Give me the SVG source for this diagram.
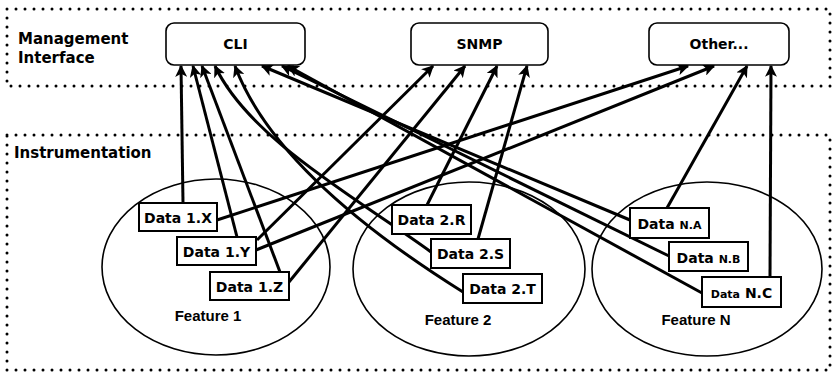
<svg xmlns="http://www.w3.org/2000/svg" width="834" height="373" viewBox="0 0 834 373">
  <style>
    .zone { fill: none; stroke: #000; stroke-width: 3; stroke-linecap: round; stroke-dasharray: 0 9; }
    .zlabel { font-family: "DejaVu Sans", sans-serif; font-weight: bold; font-size: 15px; fill: #000; }
    .iface rect { fill: #fff; stroke: #000; stroke-width: 1.6; }
    .iface text { font-family: "DejaVu Sans", sans-serif; font-weight: bold; font-size: 14px; text-anchor: middle; fill: #000; }
    .feature ellipse { fill: none; stroke: #000; stroke-width: 1.6; }
    .feature text { font-family: "Liberation Sans", Arial, sans-serif; font-weight: bold; font-size: 15px; text-anchor: middle; fill: #000; }
    .data rect { fill: #fff; stroke: #000; stroke-width: 2; }
    .data text { font-family: "DejaVu Sans", sans-serif; font-weight: bold; font-size: 14px; text-anchor: middle; fill: #000; }
    .data .sm { font-size: 11px; }
    .links path { fill: none; stroke: #000; stroke-width: 3; marker-end: url(#arrow); }
  </style>
  <defs>
    <marker id="arrow" viewBox="0 0 10 10" refX="9" refY="5" markerWidth="4" markerHeight="4" orient="auto" markerUnits="strokeWidth">
      <path d="M0,0 L10,5 L0,10 L2.5,5 z" fill="#000"/>
    </marker>
  </defs>

  <rect width="834" height="373" fill="#fff"/>

  <!-- zones -->
  <rect class="zone" x="7" y="9" width="823" height="77"/>
  <text class="zlabel" x="18" y="44">Management</text>
  <text class="zlabel" x="18" y="63">Interface</text>
  <rect class="zone" x="7" y="135" width="823" height="235"/>
  <text class="zlabel" x="14" y="158">Instrumentation</text>

  <!-- features -->
  <g id="feature1" class="feature">
    <ellipse cx="216" cy="267" rx="114" ry="88"/>
    <text x="208" y="321">Feature 1</text>
  </g>
  <g id="feature2" class="feature">
    <ellipse cx="469" cy="269" rx="116" ry="87"/>
    <text x="458" y="325">Feature 2</text>
  </g>
  <g id="featureN" class="feature">
    <ellipse cx="707" cy="269" rx="115" ry="87"/>
    <text x="696" y="325">Feature N</text>
  </g>

  <!-- connectors -->
  <g id="connectors" class="links">
    <path d="M183,203 L181,66"/>
    <path d="M237,237 L193,66"/>
    <path d="M280,272 L202,66"/>
    <path d="M431,252 C360,200 250,140 215,66"/>
    <path d="M463,292 C380,240 270,160 235,66"/>
    <path d="M630,220 L262,66"/>
    <path d="M669,256 L282,66"/>
    <path d="M702,293 L288,66"/>
    <path d="M257,240 L433,66"/>
    <path d="M289,282 L465,66"/>
    <path d="M427,205 L497,66"/>
    <path d="M478,239 L527,66"/>
    <path d="M217,220 L688,66"/>
    <path d="M256,250 L714,66"/>
    <path d="M667,208 L747,66"/>
    <path d="M770,277 L771,66"/>
  </g>

  <!-- interfaces -->
  <g id="cli" class="iface">
    <rect x="166" y="23" width="139" height="42" rx="8"/>
    <text x="235.5" y="49">CLI</text>
  </g>
  <g id="snmp" class="iface">
    <rect x="411" y="23" width="137" height="42" rx="8"/>
    <text x="479.5" y="49">SNMP</text>
  </g>
  <g id="other" class="iface">
    <rect x="649" y="23" width="140" height="42" rx="8"/>
    <text x="719" y="49">Other...</text>
  </g>

  <!-- data items -->
  <g id="data1x" class="data">
    <rect x="139" y="203" width="78" height="28"/>
    <text x="178" y="223">Data 1.X</text>
  </g>
  <g id="data1y" class="data">
    <rect x="177" y="237" width="79" height="28"/>
    <text x="216.5" y="257">Data 1.Y</text>
  </g>
  <g id="data1z" class="data">
    <rect x="210" y="272" width="79" height="28"/>
    <text x="249.5" y="292">Data 1.Z</text>
  </g>
  <g id="data2r" class="data">
    <rect x="392" y="205" width="79" height="29"/>
    <text x="431.5" y="225">Data 2.R</text>
  </g>
  <g id="data2s" class="data">
    <rect x="431" y="239" width="79" height="29"/>
    <text x="470.5" y="259">Data 2.S</text>
  </g>
  <g id="data2t" class="data">
    <rect x="463" y="274" width="79" height="29"/>
    <text x="502.5" y="294">Data 2.T</text>
  </g>
  <g id="dataNA" class="data">
    <rect x="630" y="208" width="79" height="30"/>
    <text x="669.5" y="229">Data <tspan class="sm">N.A</tspan></text>
  </g>
  <g id="dataNB" class="data">
    <rect x="669" y="242" width="79" height="29"/>
    <text x="708.5" y="263">Data <tspan class="sm">N.B</tspan></text>
  </g>
  <g id="dataNC" class="data">
    <rect x="702" y="277" width="79" height="30"/>
    <text x="741.5" y="298"><tspan class="sm">Data</tspan> N.C</text>
  </g>
</svg>
